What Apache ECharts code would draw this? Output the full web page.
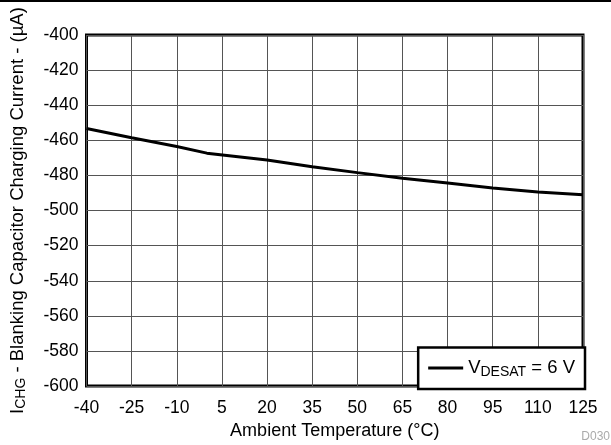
<!DOCTYPE html>
<html>
<head>
<meta charset="utf-8">
<script src="https://cdn.jsdelivr.net/npm/echarts@6/dist/echarts.min.js"></script>
<style>
  html, body { margin: 0; padding: 0; background: #fff; }
  #chart { width: 611px; height: 445px; }
</style>
</head>
<body>
<div id="chart"></div>
<script>
var temps = [-40, -25, -10, 0, 20, 35, 50, 65, 80, 95, 110, 125]
var current = [-453.3, -458.5, -463.5, -467.3, -471.2, -475, -478.4, -481.6, -484.3, -487.2, -489.5, -491]
var xTicks = [-40, -25, -10, 5, 20, 35, 50, 65, 80, 95, 110, 125]
var yTicks = [-600, -580, -560, -540, -520, -500, -480, -460, -440, -420, -400]

var font = 'Liberation Sans, Arial, Helvetica, sans-serif'
var chart = echarts.init(document.getElementById('chart'))

chart.setOption({
  animation: false,
  backgroundColor: '#fff',
  textStyle: { fontFamily: font },
  grid: {
    left: 85,
    right: 28,
    top: 35,
    bottom: 58,
    show: true,
    borderColor: '#000',
    borderWidth: 3,
    backgroundColor: 'transparent'
  },
  xAxis: {
    type: 'value',
    min: xTicks[0],
    max: xTicks[xTicks.length - 1],
    interval: 15,
    name: 'Ambient Temperature (°C)',
    nameLocation: 'middle',
    nameGap: 34,
    nameTextStyle: { fontSize: 18, color: '#000', fontFamily: font },
    axisLine: { show: false },
    axisTick: { show: false },
    axisLabel: { fontSize: 17.5, color: '#000', margin: 13, fontFamily: font },
    splitLine: { lineStyle: { color: '#555', width: 1 } }
  },
  yAxis: {
    type: 'value',
    min: yTicks[0],
    max: yTicks[yTicks.length - 1],
    interval: 20,
    name: '{a|I}{s|CHG}{a| - Blanking Capacitor Charging Current - (µA)}',
    nameLocation: 'middle',
    nameRotate: 90,
    nameGap: 58,
    nameTextStyle: {
      fontFamily: font,
      rich: {
        a: { fontSize: 18.5, color: '#000', fontFamily: font },
        s: { fontSize: 14, color: '#000', fontFamily: font, padding: [8, 0, 0, 0] }
      }
    },
    axisLine: { show: false },
    axisTick: { show: false },
    axisLabel: { fontSize: 17.5, color: '#000', margin: 8, fontFamily: font },
    splitLine: { lineStyle: { color: '#555', width: 1 } }
  },
  legend: {
    right: 26,
    bottom: 56,
    padding: [11, 10, 10, 10],
    backgroundColor: '#fff',
    borderColor: '#000',
    borderWidth: 2.5,
    itemWidth: 35,
    itemHeight: 3,
    itemGap: 9,
    icon: 'rect',
    data: ['vdesat'],
    formatter: function () {
      return '{a|V}{s|DESAT}{a| = 6 V}'
    },
    textStyle: {
      padding: [0, 0, 0, 0],
      rich: {
        a: { fontSize: 18.5, color: '#000', fontFamily: font },
        s: { fontSize: 14, color: '#000', fontFamily: font, padding: [8, 0, 0, 0] }
      }
    }
  },
  graphic: [
    {
      type: 'line',
      shape: { x1: 0, y1: 1, x2: 611, y2: 1 },
      style: { stroke: '#000', lineWidth: 2 }
    },
    {
      type: 'text',
      right: 1,
      bottom: 2,
      style: { text: 'D030', fill: '#aaa', fontSize: 12, fontFamily: font }
    }
  ],
  series: [
    {
      name: 'vdesat',
      type: 'line',
      data: temps.map(function (t, i) { return [t, current[i]] }),
      symbol: 'none',
      itemStyle: { color: '#000' },
      lineStyle: { color: '#000', width: 3 }
    }
  ]
})
</script>
</body>
</html>
